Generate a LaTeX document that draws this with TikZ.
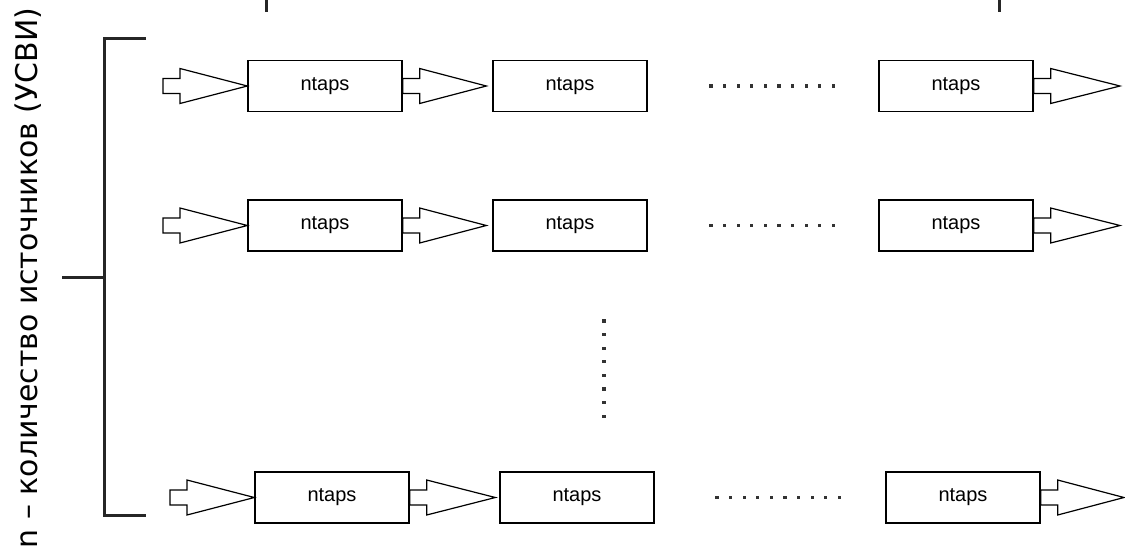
\documentclass[tikz,border=0pt]{standalone}
\usepackage{fontspec}
\setmainfont{Liberation Sans}
\newfontfamily\sidefont{DejaVu Sans}
\usetikzlibrary{calc}
\tikzset{
  tapbox/.style={draw, line width=1.3pt, minimum width=154pt, minimum height=51pt, inner sep=0pt, font=\fontsize{20}{20}\selectfont},
  barr/.style={draw, line width=1.2pt, line join=miter},
  brk/.style={draw, line width=3pt, color=black!85},
  dotc/.style={fill=black!80, draw=none}
}
\newcommand\blockarr[2]{%
  \path[barr] let \p1=(#1), \p2=(#2) in
    (\x1,\y1+7.5pt) -- (\x1+17pt,\y1+7.5pt) -- (\x1+17pt,\y1+17.5pt) -- (\x2,\y1)
    -- (\x1+17pt,\y1-17.5pt) -- (\x1+17pt,\y1-7.5pt) -- (\x1,\y1-7.5pt) -- cycle;}
\newcommand\hdots[1]{%
  \foreach \k in {0,...,9} {\fill[dotc] ($(#1)+(\k*13.6,0)+(-1.6,-1.6)$) rectangle ++(3.2,3.2);}}
\begin{document}
\begin{tikzpicture}[x=1pt,y=-1pt]
\useasboundingbox (0,0) rectangle (1125,552);
% side label
\node[rotate=90, inner sep=0pt] (lbl) at (28,278) {\resizebox{540pt}{!}{\sidefont n – количество источников (УСВИ)}};
% bracket
\coordinate (bt) at (146,38);
\coordinate (bb) at (146,515);
\coordinate (bm) at (62,277);
\draw[brk] (bt) -- (104,38) -- (104,515) -- (bb);
\draw[brk] (bm) -- (104,277);
% top ticks
\coordinate (t1) at (266,0);
\coordinate (t2) at (999,0);
\draw[brk] (t1) -- ++(0,12);
\draw[brk] (t2) -- ++(0,12);
% row 1
\node[tapbox] (a1) at (325,86) {ntaps};
\node[tapbox] (a2) at (570,86) {ntaps};
\node[tapbox] (a3) at (956,86) {ntaps};
\coordinate (ain) at (163,86);
\coordinate (aout) at (1120,86);
\coordinate (a2tip) at ($(a2.west)+(-6,0)$);
\blockarr{ain}{a1.west}
\blockarr{a1.east}{a2tip}
\blockarr{a3.east}{aout}
\coordinate (ad) at (711,86);
\hdots{ad}
% row 2
\node[tapbox] (b1) at (325,225.5) {ntaps};
\node[tapbox] (b2) at (570,225.5) {ntaps};
\node[tapbox] (b3) at (956,225.5) {ntaps};
\coordinate (bin) at (163,225.5);
\coordinate (bout) at (1120,225.5);
\coordinate (b2tip) at ($(b2.west)+(-6,0)$);
\blockarr{bin}{b1.west}
\blockarr{b1.east}{b2tip}
\blockarr{b3.east}{bout}
\coordinate (bd) at (711,225.5);
\hdots{bd}
% vertical dots
\foreach \k in {0,...,7} {\fill[dotc] (602.4,319.4+\k*13.6) rectangle ++(3.2,3.2);}
% row 3
\node[tapbox] (c1) at (332,497.5) {ntaps};
\node[tapbox] (c2) at (577,497.5) {ntaps};
\node[tapbox] (c3) at (963,497.5) {ntaps};
\coordinate (cin) at (170,497.5);
\coordinate (cout) at (1124,497.5);
\coordinate (c2tip) at ($(c2.west)+(-4,0)$);
\blockarr{cin}{c1.west}
\blockarr{c1.east}{c2tip}
\blockarr{c3.east}{cout}
\coordinate (cd) at (717,497.5);
\hdots{cd}
\end{tikzpicture}
\end{document}
